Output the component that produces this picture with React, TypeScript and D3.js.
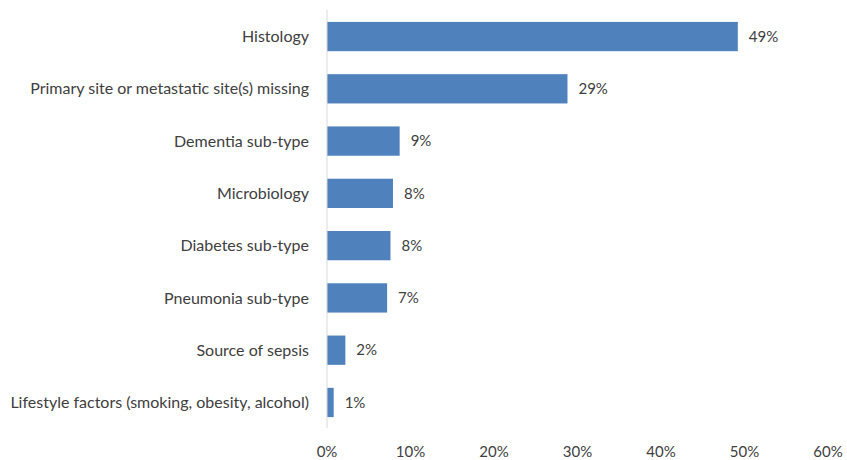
import React from "react";
import * as d3 from "d3";

const categories = [
  "Histology",
  "Primary site or metastatic site(s) missing",
  "Dementia sub-type",
  "Microbiology",
  "Diabetes sub-type",
  "Pneumonia sub-type",
  "Source of sepsis",
  "Lifestyle factors (smoking, obesity, alcohol)",
];
const values = [49.2, 28.8, 8.7, 7.9, 7.6, 7.2, 2.2, 0.8];
const valueLabels = ["49%", "29%", "9%", "8%", "8%", "7%", "2%", "1%"];
const xTicks = [0, 10, 20, 30, 40, 50, 60];

export default function App() {
  const width = 847;
  const height = 460;
  const x = d3.scaleLinear().domain([0, 60]).range([327, 828]);
  const y = d3.scaleBand().domain(categories).range([10.4, 428.6]).paddingInner(0.44).paddingOuter(0.22);
  const font = "Lato, 'Open Sans', sans-serif";
  const textColor = "#404040";
  return (
    <svg
      width={width}
      height={height}
      style={{ position: "absolute", left: 0, top: 0 }}
      fontFamily={font}
    >
      <rect width={width} height={height} fill="#fff" />
      {categories.map((c, i) => (
        <g key={c}>
          <rect
            x={x(0)}
            y={y(c)!}
            width={x(values[i]) - x(0)}
            height={y.bandwidth()}
            fill="#4f81bd"
          />
          <text
            x={x(values[i]) + 11}
            y={y(c)! + y.bandwidth() / 2}
            dy="0.35em"
            fontSize={15}
            fill={textColor}
          >
            {valueLabels[i]}
          </text>
          <text
            x={309}
            y={y(c)! + y.bandwidth() / 2}
            dy="0.35em"
            fontSize={16}
            textAnchor="end"
            fill={textColor}
          >
            {c}
          </text>
        </g>
      ))}
      <line x1={x(0)} x2={x(0)} y1={10} y2={428} stroke="#d9d9d9" strokeWidth={1} />
      {xTicks.map((t) => (
        <text
          key={t}
          x={x(t)}
          y={452}
          dy="0.35em"
          textAnchor="middle"
          fontSize={15}
          fill={textColor}
        >
          {t + "%"}
        </text>
      ))}
    </svg>
  );
}
